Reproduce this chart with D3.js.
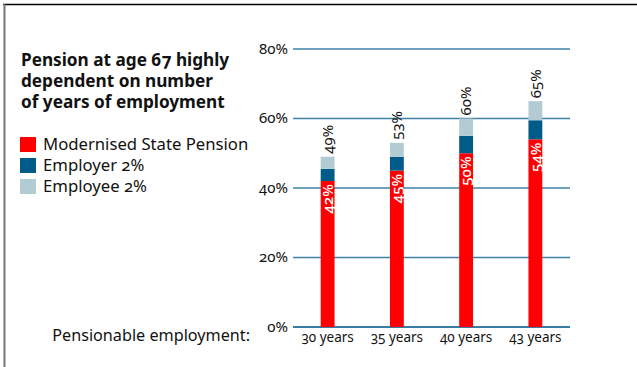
<!DOCTYPE html>
<html>
<head>
<meta charset="utf-8">
<script src="https://cdn.jsdelivr.net/npm/d3@7/dist/d3.min.js"></script>
<style>
  html, body { margin: 0; padding: 0; background: #fff; }
  svg { display: block; font-family: "Noto Sans", sans-serif; font-variant-numeric: oldstyle-nums; }
</style>
</head>
<body>
<svg id="chart" width="637" height="367"></svg>
<script>
// Chart data
const categories = ["30 years", "35 years", "40 years", "43 years"];
const statePension = [42, 45, 50, 54];
const employer = [3.5, 4, 5, 5.5];
const employee = [3.5, 4, 5, 5.5];
const totals = [49, 53, 60, 65];
const yTicks = [0, 20, 40, 60, 80];
const seriesNames = ["Modernised State Pension", "Employer 2%", "Employee 2%"];
const seriesColors = ["#fe0000", "#005b88", "#b3ccd4"];
const titleLines = ["Pension at age 67 highly", "dependent on number", "of years of employment"];

const svg = d3.select("#chart");

// Frame
svg.append("line").attr("x1", 3).attr("x2", 637).attr("y1", 4.5).attr("y2", 4.5)
  .attr("stroke", "#000").attr("stroke-width", 1.5);
svg.append("line").attr("x1", 4.5).attr("x2", 4.5).attr("y1", 4).attr("y2", 367)
  .attr("stroke", "#777").attr("stroke-width", 2);

const x = d3.scaleBand().domain(categories).range([293, 570]).paddingInner(0.8).paddingOuter(0.4);
const y = d3.scaleLinear().domain([0, 80]).range([327, 49]);

// Gridlines with tick labels
const grid = svg.append("g");
grid.selectAll("line").data(yTicks).join("line")
  .attr("x1", 293).attr("x2", 570)
  .attr("y1", d => y(d)).attr("y2", d => y(d))
  .attr("stroke", d => d === 0 ? "#3a7da3" : "#3f81a7")
  .attr("stroke-width", d => d === 0 ? 2 : 1.3);
grid.selectAll("text").data(yTicks).join("text")
  .attr("x", 288).attr("y", d => y(d)).attr("dy", "0.3em")
  .attr("text-anchor", "end").attr("font-size", 15).attr("fill", "#111")
  .text(d => d + "%");

// Stacked bars
const rows = categories.map((c, i) => ({ cat: c, vals: [statePension[i], employer[i], employee[i]] }));
const stack = d3.stack().keys([0, 1, 2]).value((d, k) => d.vals[k]);
const layers = stack(rows);
svg.append("g").selectAll("g").data(layers).join("g")
  .attr("fill", (d, i) => seriesColors[i])
  .selectAll("rect").data(d => d).join("rect")
  .attr("x", d => x(d.data.cat))
  .attr("width", x.bandwidth())
  .attr("y", d => y(d[1]))
  .attr("height", d => y(d[0]) - y(d[1]));

// Value labels inside the state pension segment
svg.append("g").selectAll("text").data(categories).join("text")
  .attr("transform", (c, i) => `translate(${x(c) + x.bandwidth() / 2},${y(statePension[i]) + 3}) rotate(-90)`)
  .attr("text-anchor", "end").attr("dy", "0.35em")
  .attr("font-size", 15).attr("font-weight", 500).attr("fill", "#fff")
  .text((c, i) => statePension[i] + "%");

// Total labels above each bar
svg.append("g").selectAll("text").data(categories).join("text")
  .attr("transform", (c, i) => `translate(${x(c) + x.bandwidth() / 2},${y(totals[i]) - 3}) rotate(-90)`)
  .attr("text-anchor", "start").attr("dy", "0.35em")
  .attr("font-size", 15).attr("fill", "#111")
  .text((c, i) => totals[i] + "%");

// Category labels
svg.append("g").selectAll("text").data(categories).join("text")
  .attr("x", c => x(c) + x.bandwidth() / 2).attr("y", 342)
  .attr("text-anchor", "middle").attr("font-size", 13.5).attr("fill", "#111")
  .text(c => c);

svg.append("text").attr("x", 250).attr("y", 341).attr("text-anchor", "end")
  .attr("font-size", 16.2).attr("fill", "#111").text("Pensionable employment:");

// Title
svg.append("g").selectAll("text").data(titleLines).join("text")
  .attr("x", 21).attr("y", (d, i) => 66 + i * 21)
  .attr("font-size", 17.2).attr("font-weight", 700).attr("fill", "#111")
  .text(d => d);

// Legend
const legend = svg.append("g").selectAll("g").data(seriesNames).join("g")
  .attr("transform", (d, i) => `translate(20,${137 + i * 21})`);
legend.append("rect").attr("width", 16).attr("height", 15).attr("fill", (d, i) => seriesColors[i]);
legend.append("text").attr("x", 23).attr("y", 7.5).attr("dy", "0.35em")
  .attr("font-size", 16.7).attr("fill", "#111").text(d => d);
</script>
</body>
</html>
